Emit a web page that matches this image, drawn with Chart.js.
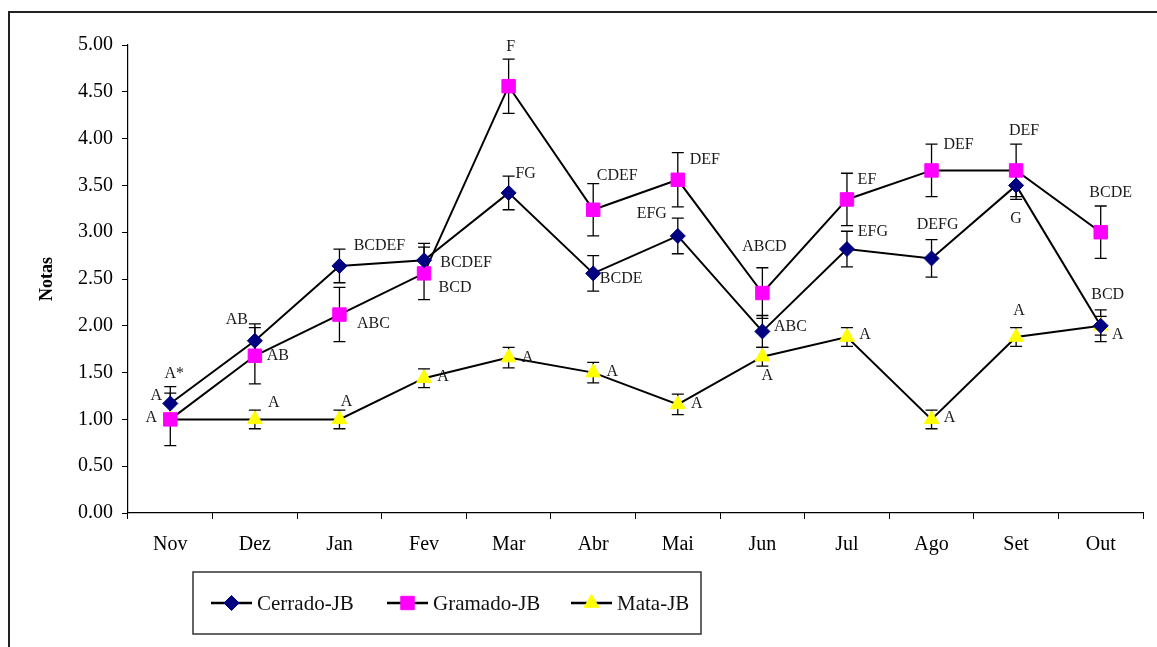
<!DOCTYPE html>
<html>
<head>
<meta charset="utf-8">
<script src="https://cdn.jsdelivr.net/npm/chart.js@4/dist/chart.umd.min.js"></script>
<style>
  html, body { margin: 0; padding: 0; background: #fff; }
  #wrap { width: 1157px; height: 647px; }
</style>
</head>
<body>
<div id="wrap"><canvas id="c" width="1157" height="647"></canvas></div>
<script>
// ---- data ----
const months = ['Nov','Dez','Jan','Fev','Mar','Abr','Mai','Jun','Jul','Ago','Set','Out'];
const yTicks = [0,0.5,1,1.5,2,2.5,3,3.5,4,4.5,5];

const cerrado    = [1.17,1.84,2.64,2.70,3.42,2.56,2.96,1.94,2.82,2.72,3.50,2.00];
const cerradoErr = [0.18,0.18,0.18,0.18,0.18,0.19,0.19,0.17,0.19,0.20,0.15,0.17];
const cerradoLetters = ['A','AB','BCDEF','BCDEF','FG','BCDE','EFG','ABC','EFG','DEFG','G','BCD'];

const gramado    = [1.00,1.68,2.12,2.56,4.56,3.24,3.56,2.35,3.35,3.66,3.66,3.00];
const gramadoErr = [0.28,0.30,0.29,0.28,0.29,0.28,0.29,0.27,0.28,0.28,0.28,0.28];
const gramadoLetters = ['A','AB','ABC','BCD','F','CDEF','DEF','ABCD','EF','DEF','DEF','BCDE'];

const mata    = [1.00,1.00,1.00,1.44,1.66,1.50,1.16,1.67,1.88,1.00,1.88,2.00];
const mataErr = [0.00,0.10,0.10,0.10,0.11,0.11,0.11,0.10,0.10,0.10,0.10,0.10];
const mataLetters = ['A*','A','A','A','A','A','A','A','A','A','A','A'];

// ---- label placement (layout only: pixel offsets from each point) ----
const cerradoOff = [[-14,-8],[-18,-21],[40,-20],[42,3],[17,-19],[28,5],[-26,-22],[28,-5],[26,-17],[6,-34],[0,33],[7,-31]];
const gramadoOff = [[-19,-2],[23,0],[34,9],[31,14],[2,-39],[24,-34],[27,-20],[2,-46],[20,-20],[27,-26],[8,-40],[10,-39]];
const mataOff    = [[4,-46],[19,-17],[7,-18],[19,-1],[19,0],[19,-1],[19,-1],[5,19],[18,-2],[18,-2],[3,-26],[17,9]];

const SERIF = '"Liberation Serif", "Times New Roman", serif';

const errs = [cerradoErr, gramadoErr, mataErr];
const letters = [cerradoLetters, gramadoLetters, mataLetters];
const offs = [cerradoOff, gramadoOff, mataOff];

const framePlugin = {
  id: 'frame',
  beforeDraw(chart) {
    const ctx = chart.ctx;
    ctx.save();
    ctx.fillStyle = '#fff';
    ctx.fillRect(0, 0, chart.width, chart.height);
    ctx.strokeStyle = '#222';
    ctx.lineWidth = 2;
    ctx.strokeRect(9, 12, chart.width + 20, chart.height + 20);
    ctx.restore();
  }
};

const errorBarPlugin = {
  id: 'errbars',
  beforeDatasetsDraw(chart) {
    const ctx = chart.ctx;
    const xs = chart.scales.x, ys = chart.scales.y;
    ctx.save();
    ctx.strokeStyle = '#000';
    ctx.lineWidth = 1.3;
    chart.data.datasets.forEach((ds, di) => {
      const e = errs[di];
      ds.data.forEach((v, i) => {
        if (!e[i]) return;
        const x = xs.getPixelForValue(i);
        const y1 = ys.getPixelForValue(v + e[i]);
        const y2 = ys.getPixelForValue(v - e[i]);
        ctx.beginPath();
        ctx.moveTo(x, y1); ctx.lineTo(x, y2);
        ctx.moveTo(x - 6, y1); ctx.lineTo(x + 6, y1);
        ctx.moveTo(x - 6, y2); ctx.lineTo(x + 6, y2);
        ctx.stroke();
      });
    });
    ctx.restore();
  }
};

const letterPlugin = {
  id: 'letters',
  afterDatasetsDraw(chart) {
    const ctx = chart.ctx;
    ctx.save();
    ctx.font = '16px ' + SERIF;
    ctx.fillStyle = '#1a1a1a';
    ctx.textAlign = 'center';
    ctx.textBaseline = 'middle';
    chart.data.datasets.forEach((ds, di) => {
      const meta = chart.getDatasetMeta(di);
      meta.data.forEach((pt, i) => {
        const o = offs[di][i];
        ctx.fillText(letters[di][i], pt.x + o[0], pt.y + o[1]);
      });
    });
    ctx.restore();
  }
};

const legendPlugin = {
  id: 'boxLegend',
  afterDraw(chart) {
    const ctx = chart.ctx;
    ctx.save();
    ctx.strokeStyle = '#333';
    ctx.lineWidth = 1.5;
    ctx.strokeRect(193, 572, 508, 62);
    const starts = [211, 387, 571];
    const cy = 603;
    ctx.font = '21px ' + SERIF;
    ctx.textBaseline = 'middle';
    ctx.textAlign = 'left';
    chart.data.datasets.forEach((ds, di) => {
      const x0 = starts[di];
      ctx.strokeStyle = '#000';
      ctx.lineWidth = 2.5;
      ctx.beginPath(); ctx.moveTo(x0, cy); ctx.lineTo(x0 + 41, cy); ctx.stroke();
      ctx.fillStyle = ds.pointBackgroundColor;
      ctx.strokeStyle = ds.pointBorderColor;
      ctx.lineWidth = 1;
      Chart.helpers.drawPoint(ctx, {pointStyle: ds.pointStyle, radius: ds.pointRadius, rotation: 0, borderWidth: 1}, x0 + 20.5, cy);
      ctx.fillStyle = '#111';
      ctx.fillText(ds.label, x0 + 46, cy + 1);
    });
    ctx.restore();
  }
};

new Chart(document.getElementById('c'), {
  type: 'line',
  data: {
    labels: months,
    datasets: [
      { label: 'Cerrado-JB', data: cerrado, borderColor: '#000', borderWidth: 2, tension: 0,
        pointStyle: 'rectRot', pointRadius: 7.5, pointHoverRadius: 7.5,
        pointBackgroundColor: '#000080', pointBorderColor: '#000080', pointBorderWidth: 1 },
      { label: 'Gramado-JB', data: gramado, borderColor: '#000', borderWidth: 2, tension: 0,
        pointStyle: 'rect', pointRadius: 9.5, pointHoverRadius: 9.5,
        pointBackgroundColor: '#FF00FF', pointBorderColor: '#FF00FF', pointBorderWidth: 1 },
      { label: 'Mata-JB', data: mata, borderColor: '#000', borderWidth: 2, tension: 0,
        pointStyle: 'triangle', pointRadius: 8.5, pointHoverRadius: 8.5,
        pointBackgroundColor: '#FFFF00', pointBorderColor: '#FFFF00', pointBorderWidth: 1 }
    ]
  },
  options: {
    responsive: false,
    animation: false,
    devicePixelRatio: 1,
    layout: { padding: { left: 0, top: 45, right: 14, bottom: 0 } },
    plugins: { legend: { display: false }, tooltip: { enabled: false } },
    scales: {
      x: {
        type: 'category',
        offset: true,
        grid: { offset: true, drawOnChartArea: false, drawTicks: true, tickLength: 6, color: '#000', lineWidth: 1 },
        border: { color: '#000', width: 1.2 },
        ticks: { font: { family: SERIF, size: 20 }, color: '#000', padding: 14, maxRotation: 0 },
        afterFit(s) { s.height = 134; }
      },
      y: {
        min: 0, max: 5,
        afterBuildTicks(s) { s.ticks = yTicks.map(v => ({ value: v })); },
        ticks: { font: { family: SERIF, size: 20 }, color: '#000', padding: 9,
                 callback: v => Number(v).toFixed(2) },
        grid: { drawOnChartArea: false, tickLength: 6, color: '#000', lineWidth: 1 },
        border: { color: '#000', width: 1.2 },
        title: { display: true, text: 'Notas', color: '#000',
                 font: { family: SERIF, size: 18, weight: 'bold' }, padding: { top: 37, bottom: 0 } },
        afterFit(s) { s.width = 128; }
      }
    }
  },
  plugins: [framePlugin, errorBarPlugin, letterPlugin, legendPlugin]
});
</script>
</body>
</html>
